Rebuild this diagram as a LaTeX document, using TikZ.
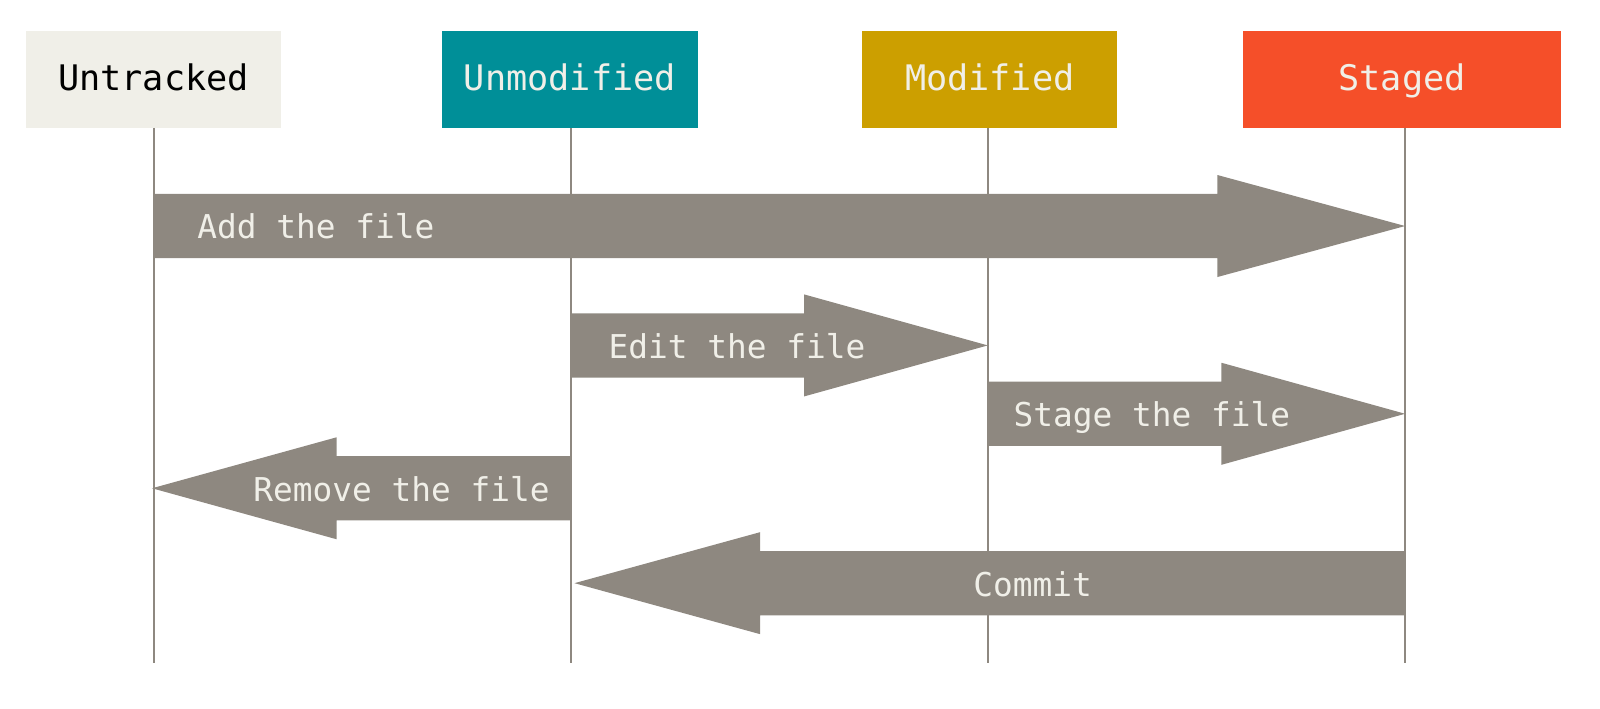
\documentclass[tikz,border=0pt]{standalone}
\usepackage{fontspec}
\setmonofont{DejaVu Sans Mono}
\definecolor{untrackedfill}{HTML}{F0EFE8}
\definecolor{unmodfill}{HTML}{008F98}
\definecolor{modfill}{HTML}{CC9F00}
\definecolor{stagedfill}{HTML}{F54F29}
\definecolor{arrowgray}{HTML}{8E8880}
\definecolor{lighttext}{HTML}{F0EFE8}
\newcommand\gitarrow[4]{% tail x, neck x, tip x, centre y
  \fill[arrowgray] (#1,#4-31.5) -- (#2,#4-31.5) -- (#2,#4-50) -- (#3,#4)
    -- (#2,#4+50) -- (#2,#4+31.5) -- (#1,#4+31.5) -- cycle;}
\begin{document}
\begin{tikzpicture}[x=0.5102pt,y=-0.5102pt,
  state/.style={font=\ttfamily\fontsize{17.6}{21}\selectfont, inner sep=0pt,
    minimum height=48.47pt, text height=12.8pt, text depth=1.5pt},
  lifeline/.style={draw=arrowgray, line width=1pt},
  arrowlabel/.style={font=\ttfamily\fontsize{16.4}{20}\selectfont,
    text=lighttext, inner sep=0pt}]
\useasboundingbox (0,0) rectangle (1568,694);
% state boxes
\node[state, fill=untrackedfill, text=black, minimum width=127.55pt] (untracked) at (150.5,77.5) {Untracked};
\node[state, fill=unmodfill, text=lighttext, minimum width=128.06pt] (unmodified) at (558.5,77.5) {Unmodified};
\node[state, fill=modfill, text=lighttext, minimum width=127.55pt] (modified) at (970,77.5) {Modified};
\node[state, fill=stagedfill, text=lighttext, minimum width=159.2pt] (staged) at (1374,77.5) {Staged};
% lifelines
\coordinate (uBot) at (151,650);
\coordinate (unBot) at (560,650);
\coordinate (mBot) at (968,650);
\coordinate (sBot) at (1377,650);
\draw[lifeline] (uBot |- untracked.south) -- (uBot);
\draw[lifeline] (unBot |- unmodified.south) -- (unBot);
\draw[lifeline] (mBot |- modified.south) -- (mBot);
\draw[lifeline] (sBot |- staged.south) -- (sBot);
% arrows
\gitarrow{151}{1193}{1377}{221.5}
\gitarrow{560}{788}{968}{338.5}
\gitarrow{968}{1197}{1377}{405.5}
\gitarrow{560}{330}{149}{478.5}
\gitarrow{1377}{745}{563}{571.5}
% labels
\node[arrowlabel, anchor=base west] (ladd) at (193,234.2) {Add the file};
\node[arrowlabel, anchor=base west] (ledit) at (596,351.2) {Edit the file};
\node[arrowlabel, anchor=base west] (lstage) at (993,418.2) {Stage the file};
\node[arrowlabel, anchor=base east] (lremove) at (539,491.2) {Remove the file};
\node[arrowlabel, anchor=base] (lcommit) at (1012,584.2) {Commit};
\end{tikzpicture}
\end{document}
